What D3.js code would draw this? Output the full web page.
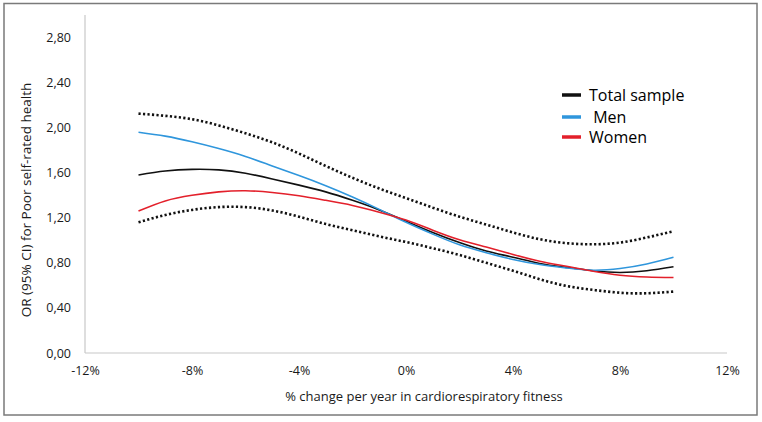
<!DOCTYPE html>
<html>
<head>
<meta charset="utf-8">
<script src="https://cdn.jsdelivr.net/npm/d3@7"></script>
<style>
  body { margin: 0; background: #fff; }
  text { font-family: "Open Sans", sans-serif; }
</style>
</head>
<body>
<div id="chart"></div>
<script>
var svgWidth = 762;
var svgHeight = 422;

// % change per year (x values of every curve)
var pctChange = [-10, -9, -8, -7, -6, -5, -4, -3, -2, -1, 0, 1, 2, 3, 4, 5, 6, 7, 8, 9, 10];

// odds ratios
var totalSample = [1.58, 1.615, 1.63, 1.625, 1.595, 1.545, 1.49, 1.43, 1.355, 1.27, 1.17, 1.07, 0.98, 0.905, 0.85, 0.795, 0.76, 0.73, 0.715, 0.73, 0.765];
var men = [1.96, 1.925, 1.875, 1.815, 1.745, 1.66, 1.575, 1.485, 1.385, 1.275, 1.16, 1.055, 0.96, 0.89, 0.83, 0.785, 0.755, 0.735, 0.75, 0.79, 0.85];
var women = [1.26, 1.35, 1.40, 1.43, 1.44, 1.425, 1.395, 1.355, 1.31, 1.25, 1.18, 1.09, 1.005, 0.94, 0.875, 0.815, 0.77, 0.725, 0.69, 0.675, 0.67];
var upperCI = [2.125, 2.105, 2.075, 2.02, 1.95, 1.87, 1.77, 1.66, 1.555, 1.46, 1.375, 1.29, 1.21, 1.14, 1.07, 1.01, 0.975, 0.965, 0.98, 1.025, 1.08];
var lowerCI = [1.16, 1.225, 1.27, 1.295, 1.295, 1.265, 1.21, 1.145, 1.09, 1.035, 0.985, 0.93, 0.87, 0.80, 0.73, 0.655, 0.595, 0.56, 0.535, 0.53, 0.545];

// axis ticks
var xTicks = [-12, -8, -4, 0, 4, 8, 12];
var yTicks = [0, 0.4, 0.8, 1.2, 1.6, 2.0, 2.4, 2.8];

var legendNames = ["Total sample", " Men", "Women"];
var legendColors = ["#111111", "#2f96dc", "#e3202b"];

var svg = d3.select("#chart")
  .append("svg")
  .attr("width", svgWidth)
  .attr("height", svgHeight);

// outer frame
svg.append("rect")
  .attr("x", 4)
  .attr("y", 3.5)
  .attr("width", 753)
  .attr("height", 411.5)
  .attr("fill", "none")
  .attr("stroke", "#7a7a7a")
  .attr("stroke-width", 1.5);

var xScale = d3.scaleLinear().domain([-12, 12]).range([85, 727]);
var yScale = d3.scaleLinear().domain([0, 3]).range([353, 15]);

// axis lines
svg.append("line")
  .attr("x1", xScale(-12)).attr("x2", xScale(-12))
  .attr("y1", yScale(3)).attr("y2", yScale(0))
  .attr("stroke", "#c8c8c8").attr("stroke-width", 1.2);

svg.append("line")
  .attr("x1", xScale(-12)).attr("x2", xScale(12))
  .attr("y1", yScale(0)).attr("y2", yScale(0))
  .attr("stroke", "#c8c8c8").attr("stroke-width", 1.2);

var leftAxis = d3.axisLeft(yScale)
  .tickValues(yTicks)
  .tickSize(0)
  .tickPadding(14)
  .tickFormat(d => d3.format(".2f")(d).replace(".", ","));

var bottomAxis = d3.axisBottom(xScale)
  .tickValues(xTicks)
  .tickSize(0)
  .tickPadding(13)
  .tickFormat(d => d + "%");

var yAxis = svg.append("g")
  .attr("transform", `translate(${xScale(-12)}, 0)`)
  .call(leftAxis);

var xAxis = svg.append("g")
  .attr("transform", `translate(0, ${yScale(0)})`)
  .call(bottomAxis);

[yAxis, xAxis].forEach(function(ax) {
  ax.select(".domain").remove();
  ax.selectAll("text")
    .attr("font-family", "Open Sans, sans-serif")
    .attr("font-size", "12.5px")
    .attr("fill", "#1a1a1a");
});

// axis titles
svg.append("text")
  .attr("x", 424)
  .attr("y", 401)
  .attr("text-anchor", "middle")
  .attr("font-size", "13px")
  .attr("fill", "#1a1a1a")
  .text("% change per year in cardiorespiratory fitness");

svg.append("text")
  .attr("transform", "translate(31, 200) rotate(-90)")
  .attr("text-anchor", "middle")
  .attr("font-size", "13.5px")
  .attr("fill", "#1a1a1a")
  .text("OR (95% CI) for Poor self-rated health");

var line = d3.line()
  .x((d, i) => xScale(pctChange[i]))
  .y(d => yScale(d))
  .curve(d3.curveNatural);

// confidence interval (dotted)
[upperCI, lowerCI].forEach(function(series) {
  svg.append("path")
    .datum(series)
    .attr("d", line)
    .attr("fill", "none")
    .attr("stroke", "#111")
    .attr("stroke-width", 2.6)
    .attr("stroke-dasharray", "2.2 2.3");
});

// estimates
svg.append("path").datum(totalSample).attr("d", line)
  .attr("fill", "none").attr("stroke", legendColors[0]).attr("stroke-width", 1.6);
svg.append("path").datum(men).attr("d", line)
  .attr("fill", "none").attr("stroke", legendColors[1]).attr("stroke-width", 1.6);
svg.append("path").datum(women).attr("d", line)
  .attr("fill", "none").attr("stroke", legendColors[2]).attr("stroke-width", 1.6);

// legend
var legendY = [95, 117, 137];
var legend = svg.append("g");
legendNames.forEach(function(name, i) {
  legend.append("line")
    .attr("x1", 562).attr("x2", 581)
    .attr("y1", legendY[i]).attr("y2", legendY[i])
    .attr("stroke", legendColors[i])
    .attr("stroke-width", 3.5);
  legend.append("text")
    .attr("x", 589)
    .attr("y", legendY[i] + 5.5)
    .attr("font-size", "16px")
    .attr("fill", "#000")
    .attr("xml:space", "preserve")
    .style("white-space", "pre")
    .text(name);
});
</script>
</body>
</html>
